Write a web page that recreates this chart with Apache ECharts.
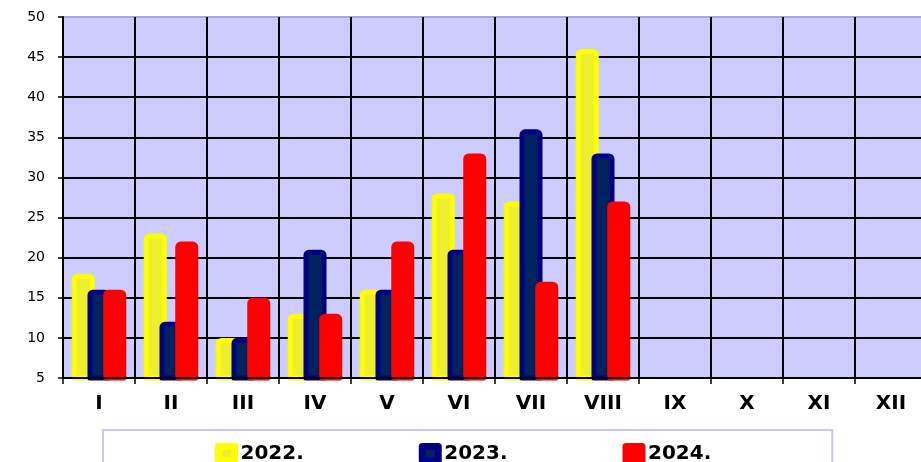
<!DOCTYPE html>
<html>
<head>
<meta charset="utf-8">
<script src="https://cdn.jsdelivr.net/npm/echarts@6/dist/echarts.min.js"></script>
<style>html,body{margin:0;padding:0;background:#fff;}#c{width:921px;height:462px;}</style>
</head>
<body>
<div id="c"></div>
<script>
const categories = ['I','II','III','IV','V','VI','VII','VIII','IX','X','XI','XII'];
const seriesNames = ['2022.','2023.','2024.'];
const values2022 = [18, 23, 10, 13, 16, 28, 27, 46, null, null, null, null];
const values2023 = [16, 12, 10, 21, 16, 21, 36, 33, null, null, null, null];
const values2024 = [16, 22, 15, 13, 22, 33, 17, 27, null, null, null, null];
const yTicks = [5, 10, 15, 20, 25, 30, 35, 40, 45, 50];

const outerColors = ['#FFFF00', '#000080', '#FF0000'];
const innerColors = ['#EEEE30', '#00235F', '#FF0000'];
const allValues = [values2022, values2023, values2024];

const chart = echarts.init(document.getElementById('c'), null, {renderer: 'canvas'});
const hLineColors = yTicks.map((t, i) => i === yTicks.length - 1 ? '#A8A8D8' : '#000000');

const series = seriesNames.map((name, i) => ({
  name: name,
  type: 'bar',
  data: allValues[i],
  barWidth: 23,
  barGap: '-31.5%',
  itemStyle: {
    color: innerColors[i],
    borderColor: outerColors[i],
    borderWidth: 5,
    borderRadius: [3, 3, 0, 0],
    borderJoin: 'round'
  },
  emphasis: {disabled: true},
  animation: false
}));

chart.setOption({
  animation: false,
  backgroundColor: '#ffffff',
  grid: {
    left: 63, top: 17, width: 864, height: 361,
    outerBoundsMode: 'none',
    show: true, backgroundColor: '#CCCCFF', borderWidth: 0
  },
  legend: {
    left: 103, top: 430,
    padding: [13, 121, 14, 112],
    borderColor: '#C8C8F8', borderWidth: 2,
    itemWidth: 16, itemHeight: 14, itemGap: 115,
    icon: 'rect',
    textStyle: {fontFamily: 'DejaVu Sans', fontWeight: 'bold', fontSize: 20, color: '#000', padding: [0,0,0,1]},
    data: seriesNames.map((n, i) => ({
      name: n,
      itemStyle: {color: innerColors[i], borderColor: outerColors[i], borderWidth: 7, borderRadius: 3}
    }))
  },
  xAxis: {
    type: 'category',
    data: categories,
    boundaryGap: true,
    z: 5,
    axisLine: {show: true, lineStyle: {color: '#000', width: 2}},
    axisTick: {show: true, length: 6, lineStyle: {color: '#000', width: 1.5}},
    axisLabel: {fontFamily: 'DejaVu Sans', fontWeight: 'bold', fontSize: 20, color: '#000', margin: 16, interval: 0},
    splitLine: {show: true, lineStyle: {color: '#000', width: 2}}
  },
  yAxis: {
    type: 'value',
    min: 5, max: 50, interval: 5,
    axisLine: {show: true, lineStyle: {color: '#000', width: 2}},
    axisTick: {show: true, length: 5, lineStyle: {color: '#000', width: 1.5}},
    axisLabel: {fontFamily: 'DejaVu Sans', fontSize: 14, color: '#000', margin: 18},
    splitLine: {show: true, lineStyle: {color: hLineColors, width: 2}}
  },
  series: series
});
</script>
</body>
</html>
